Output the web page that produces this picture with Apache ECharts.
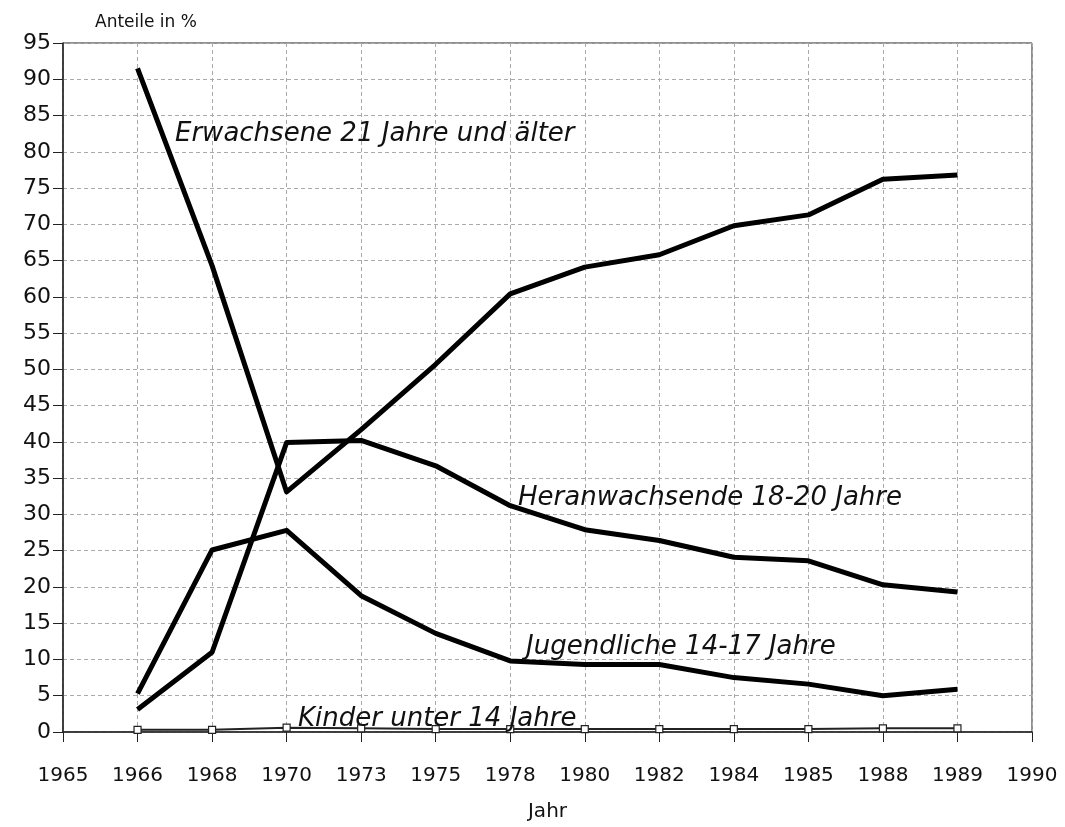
<!DOCTYPE html>
<html>
<head>
<meta charset="utf-8">
<script src="https://cdn.jsdelivr.net/npm/echarts@6/dist/echarts.min.js"></script>
<style>
  html, body { margin: 0; padding: 0; background: #fff; }
  #chart { width: 1065px; height: 827px; }
</style>
</head>
<body>
<div id="chart"></div>
<script>
// Jahre (Kategorien, gleichmäßig verteilt wie im Original)
const years = ['1965', '1966', '1968', '1970', '1973', '1975', '1978', '1980', '1982', '1984', '1985', '1988', '1989', '1990'];

// Anteile in % je Altersgruppe
const erwachsene = [null, 91.5, 64.3, 33.1, 41.7, 50.7, 60.4, 64.1, 65.8, 69.8, 71.3, 76.2, 76.8, null];
const heranwachsende = [null, 3.1, 11.0, 39.9, 40.2, 36.7, 31.2, 27.9, 26.4, 24.1, 23.6, 20.3, 19.3, null];
const jugendliche = [null, 5.3, 25.1, 27.8, 18.8, 13.6, 9.8, 9.3, 9.3, 7.5, 6.6, 5.0, 5.9, null];
const kinder = [null, 0.3, 0.3, 0.6, 0.5, 0.4, 0.4, 0.4, 0.4, 0.4, 0.4, 0.5, 0.5, null];

const FONT = '"DejaVu Sans", "Liberation Sans", sans-serif';

const myChart = echarts.init(document.getElementById('chart'));

// Beschriftungen direkt im Diagramm
const seriesLabel = (text, x, y) => ({
  type: 'text',
  x: x,
  y: y,
  z: 10,
  style: {
    text: text,
    font: 'italic 26px ' + FONT,
    fill: '#111',
    verticalAlign: 'middle'
  }
});

const lineSeries = (name, data) => ({
  name: name,
  type: 'line',
  data: data,
  symbol: 'none',
  smooth: false,
  lineStyle: { color: '#000', width: 5, join: 'round' }
});

const gridLine = { show: true, lineStyle: { color: '#aaa', type: [4, 3], width: 1 } };

const option = {
  animation: false,
  backgroundColor: '#fff',
  grid: {
    left: 63,
    right: 33,
    top: 43,
    bottom: 87,
    show: true,
    borderColor: '#222',
    borderWidth: 1
  },
  xAxis: {
    type: 'category',
    boundaryGap: false,
    data: years,
    name: 'Jahr',
    nameLocation: 'middle',
    nameGap: 70,
    nameTextStyle: { fontFamily: FONT, fontSize: 20, color: '#111' },
    axisLine: { lineStyle: { color: '#222', width: 1.5 } },
    axisTick: { show: true, length: 10, inside: false, lineStyle: { color: '#222' } },
    axisLabel: { fontFamily: FONT, fontSize: 20, color: '#111', margin: 34 },
    splitLine: gridLine
  },
  yAxis: {
    type: 'value',
    min: 0,
    max: 95,
    interval: 5,
    name: 'Anteile in %',
    nameLocation: 'end',
    nameGap: 12,
    nameTextStyle: { fontFamily: FONT, fontSize: 17, color: '#111', align: 'left', padding: [0, 0, 0, 32] },
    axisLine: { show: true, lineStyle: { color: '#222', width: 1.5 } },
    axisTick: { show: true, length: 10, lineStyle: { color: '#222' } },
    axisLabel: { fontFamily: FONT, fontSize: 22, color: '#111', margin: 12 },
    splitLine: gridLine
  },
  series: [
    lineSeries('Erwachsene 21 Jahre und älter', erwachsene),
    lineSeries('Heranwachsende 18-20 Jahre', heranwachsende),
    lineSeries('Jugendliche 14-17 Jahre', jugendliche),
    {
      name: 'Kinder unter 14 Jahre',
      type: 'line',
      data: kinder,
      symbol: 'rect',
      symbolSize: 7,
      showSymbol: true,
      itemStyle: { color: '#fff', borderColor: '#222', borderWidth: 1.2 },
      lineStyle: { color: '#222', width: 2 }
    }
  ],
  graphic: [
    seriesLabel('Erwachsene 21 Jahre und älter', 175, 134),
    seriesLabel('Heranwachsende 18-20 Jahre', 518, 498),
    seriesLabel('Jugendliche 14-17 Jahre', 526, 647),
    seriesLabel('Kinder unter 14 Jahre', 298, 719)
  ]
};

myChart.setOption(option);
window.addEventListener('resize', myChart.resize);
</script>
</body>
</html>
